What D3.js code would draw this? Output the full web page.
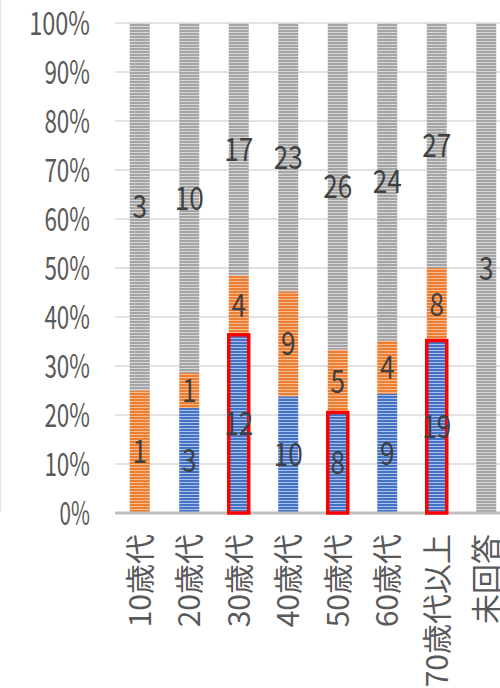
<!DOCTYPE html>
<html>
<head>
<meta charset="utf-8">
<script src="https://cdn.jsdelivr.net/npm/d3@7/dist/d3.min.js"></script>
<style>
  html, body { margin: 0; padding: 0; background: #ffffff; }
  svg { display: block; }
</style>
</head>
<body>
<div id="chart"></div>
<script>
// ---- data ----
const categories = ["10歳代", "20歳代", "30歳代", "40歳代", "50歳代", "60歳代", "70歳代以上", "未回答"];
const seriesKeys = ["blue", "orange", "gray"];
const blueValues   = [0, 3, 12, 10, 8, 9, 19, 0];
const orangeValues = [1, 1, 4, 9, 5, 4, 8, 0];
const grayValues   = [3, 10, 17, 23, 26, 24, 27, 3];
const highlighted  = ["30歳代", "50歳代", "70歳代以上"];
const yTicks = [0, 0.1, 0.2, 0.3, 0.4, 0.5, 0.6, 0.7, 0.8, 0.9, 1.0];

const rows = categories.map((c, i) => ({
  cat: c, blue: blueValues[i], orange: orangeValues[i], gray: grayValues[i]
}));

// ---- layout ----
const W = 500, H = 688;
const plot = { left: 115, right: 511, top: 23, bottom: 513 };
const numFont = "'Noto Sans CJK JP', 'Noto Sans', sans-serif";

const svg = d3.select("#chart").append("svg")
  .attr("width", W).attr("height", H);

// patterns
const defs = svg.append("defs");
const pat = {
  blue:   { base: "#4472c4", light: "#aac0e8" },
  orange: { base: "#ed7d31", light: "#f6bc93" },
  gray:   { base: "#a5a5a5", light: "#d6d6d6" }
};
Object.entries(pat).forEach(([k, c]) => {
  const p = defs.append("pattern")
    .attr("id", "pat-" + k)
    .attr("patternUnits", "userSpaceOnUse")
    .attr("width", 6).attr("height", 3);
  p.append("rect").attr("width", 6).attr("height", 3).attr("fill", c.base);
  p.append("rect").attr("y", 2).attr("width", 6).attr("height", 1).attr("fill", c.light);
});

// faint frame remnant at left edge
svg.append("line")
  .attr("x1", 0.5).attr("x2", 0.5).attr("y1", 0).attr("y2", 512)
  .attr("stroke", "#e4e4f2").attr("stroke-width", 1);

const x = d3.scaleBand()
  .domain(categories)
  .range([plot.left, plot.right])
  .paddingInner(0.596)
  .paddingOuter(0.298);

const y = d3.scaleLinear().domain([0, 1]).range([plot.bottom, plot.top]);

// gridlines
svg.append("g")
  .selectAll("line")
  .data(yTicks.filter(t => t > 0))
  .join("line")
  .attr("x1", plot.left).attr("x2", plot.right)
  .attr("y1", d => y(d)).attr("y2", d => y(d))
  .attr("stroke", "#d9d9d9").attr("stroke-width", 1.5);

// y axis labels
const yAxis = d3.axisLeft(y).tickValues(yTicks).tickFormat(d3.format(".0%")).tickSize(0).tickPadding(0);
const yg = svg.append("g").attr("transform", `translate(90,0)`).call(yAxis);
yg.select(".domain").remove();
yg.selectAll("text")
  .attr("fill", "#595959")
  .attr("font-family", numFont)
  .attr("font-size", 32)
  .attr("dy", "0.36em")
  .attr("textLength", function() { return this.textContent.length * 15.2; })
  .attr("lengthAdjust", "spacingAndGlyphs");

// stacked bars
const stack = d3.stack().keys(seriesKeys).offset(d3.stackOffsetExpand);
const stacked = stack(rows);

const layers = svg.append("g").selectAll("g")
  .data(stacked)
  .join("g")
  .attr("fill", d => `url(#pat-${d.key})`);

layers.selectAll("rect")
  .data(d => d.map(v => ({ key: d.key, v })))
  .join("rect")
  .attr("x", d => x(d.v.data.cat))
  .attr("width", x.bandwidth())
  .attr("y", d => y(d.v[1]))
  .attr("height", d => Math.max(0, y(d.v[0]) - y(d.v[1])));

// axis base line
svg.append("line")
  .attr("x1", plot.left).attr("x2", plot.right)
  .attr("y1", plot.bottom).attr("y2", plot.bottom)
  .attr("stroke", "#bfbfbf").attr("stroke-width", 3);

// red highlight outlines on blue segments
const blueLayer = stacked.find(s => s.key === "blue");
svg.append("g").selectAll("rect")
  .data(blueLayer.filter(v => highlighted.includes(v.data.cat)))
  .join("rect")
  .attr("x", d => x(d.data.cat))
  .attr("width", x.bandwidth())
  .attr("y", d => y(d[1]))
  .attr("height", d => y(d[0]) - y(d[1]))
  .attr("fill", "none")
  .attr("stroke", "#ff0000")
  .attr("stroke-width", 3.5);

// data labels
const labels = [];
stacked.forEach(s => s.forEach(v => {
  const val = v.data[s.key];
  if (val > 0) labels.push({ cat: v.data.cat, val, mid: (v[0] + v[1]) / 2 });
}));
svg.append("g").selectAll("text")
  .data(labels)
  .join("text")
  .attr("x", d => x(d.cat) + x.bandwidth() / 2)
  .attr("y", d => y(d.mid))
  .attr("dy", "0.36em")
  .attr("text-anchor", "middle")
  .attr("fill", "#404040")
  .attr("font-family", numFont)
  .attr("font-size", 32)
  .attr("textLength", d => String(d.val).length * 14.5)
  .attr("lengthAdjust", "spacingAndGlyphs")
  .text(d => d.val);

// x axis labels (vertical)
const xAxis = d3.axisBottom(x).tickSize(0).tickPadding(0);
const xg = svg.append("g").attr("transform", `translate(0,${plot.bottom})`).call(xAxis);
xg.select(".domain").remove();
xg.selectAll(".tick text")
  .attr("transform", "translate(0,21) rotate(-90)")
  .attr("text-anchor", "end")
  .attr("x", 0).attr("y", 0)
  .attr("dy", "0.36em")
  .attr("fill", "#595959")
  .attr("font-family", "'Noto Sans CJK JP', sans-serif")
  .attr("font-size", 30);
</script>
</body>
</html>
